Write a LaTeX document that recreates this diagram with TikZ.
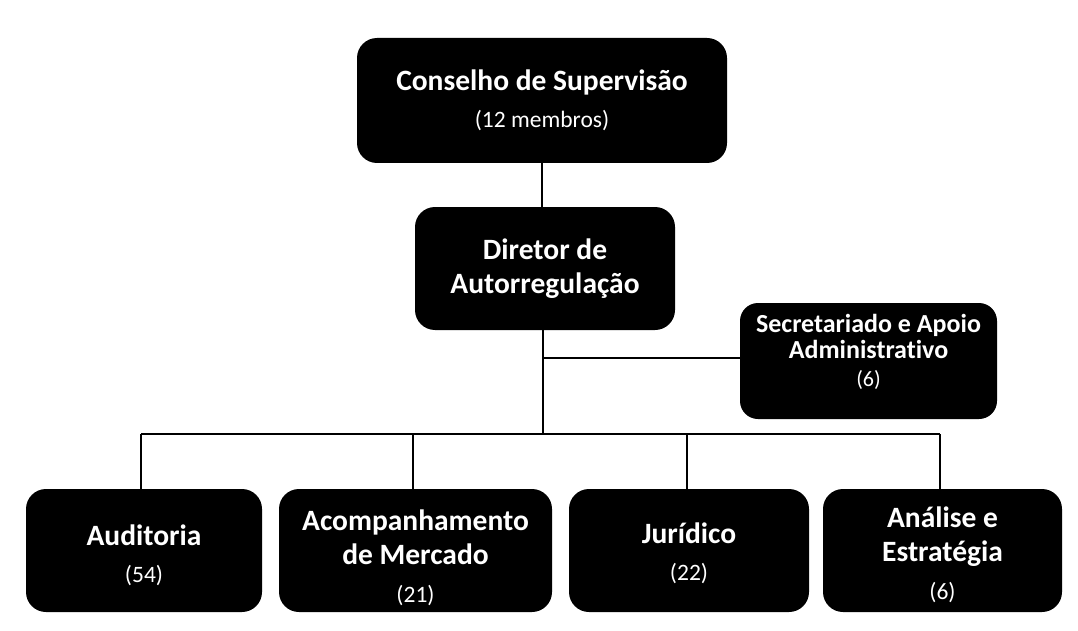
\documentclass[tikz,border=0pt]{standalone}
\usepackage{fontspec}
\setmainfont[Ligatures=NoCommon]{Carlito}
\usetikzlibrary{calc}
\newcommand{\cnt}[1]{\\[3pt]{\mdseries\fontsize{23.5}{34.5}\selectfont #1}}
\newcommand{\cnts}[1]{\\[2pt]{\mdseries\fontsize{22}{26}\selectfont #1}}
\begin{document}
\begin{tikzpicture}[x=1pt,y=-1pt,
  orgbox/.style={fill=black, draw=none, rounded corners=20pt, inner sep=0pt},
  orgtxt/.style={text=white, align=center, inner sep=0pt, font=\fontsize{29.5}{34.5}\selectfont\bfseries},
  smalltxt/.style={text=white, align=center, inner sep=0pt, font=\fontsize{26}{26}\selectfont\bfseries},
  link/.style={draw=black, line width=2.2pt}]
\useasboundingbox (0,0) rectangle (1078,631);
\fill[white] (0,0) rectangle (1078,631);

% boxes
\node[orgbox, minimum width=370pt, minimum height=125pt] (cons) at (542,100.5) {};
\node[orgbox, minimum width=260pt, minimum height=123pt] (dir) at (545,268.5) {};
\node[orgbox, minimum width=257pt, minimum height=116pt, rounded corners=18pt] (sec) at (868.5,361) {};
\node[orgbox, minimum width=236pt, minimum height=123pt] (aud) at (144,550.5) {};
\node[orgbox, minimum width=273pt, minimum height=123pt] (acm) at (415.5,550.5) {};
\node[orgbox, minimum width=240pt, minimum height=123pt] (jur) at (689,550.5) {};
\node[orgbox, minimum width=239pt, minimum height=123pt] (ana) at (942.5,550.5) {};

% texts
\node[orgtxt] (cons-t) at ($(cons.center)+(0,0)$) {Conselho de Supervisão\cnt{(12 membros)}};
\node[orgtxt] (dir-t) at ($(dir.center)+(0,0)$) {Diretor de\\Autorregulação};
\node[smalltxt] (sec-t) at ($(sec.center)+(0,-9)$) {Secretariado e Apoio\\Administrativo\cnts{(6)}};
\node[orgtxt] (aud-t) at ($(aud.center)+(0,5)$) {Auditoria\cnt{(54)}};
\node[orgtxt] (acm-t) at ($(acm.center)+(0,7)$) {Acompanhamento\\de Mercado\cnt{(21)}};
\node[orgtxt] (jur-t) at ($(jur.center)+(0,3)$) {Jurídico\cnt{(22)}};
\node[orgtxt] (ana-t) at ($(ana.center)+(0,4)$) {Análise e\\Estratégia\cnt{(6)}};

% connectors
\coordinate (bus) at (543,434);
\coordinate (br) at (543,358);
\coordinate (d1) at (141,434);
\coordinate (d2) at (413,434);
\coordinate (d3) at (687,434);
\coordinate (d4) at (940,434);
\draw[link] (cons.south) -- (cons.south |- dir.north);
\draw[link] (dir.south -| bus) -- (bus);
\draw[link] (br) -- (br -| sec.west);
\draw[link] (d1) -- (d4);
\draw[link] (d1) -- (d1 |- aud.north);
\draw[link] (d2) -- (d2 |- acm.north);
\draw[link] (d3) -- (d3 |- jur.north);
\draw[link] (d4) -- (d4 |- ana.north);
\end{tikzpicture}
\end{document}
